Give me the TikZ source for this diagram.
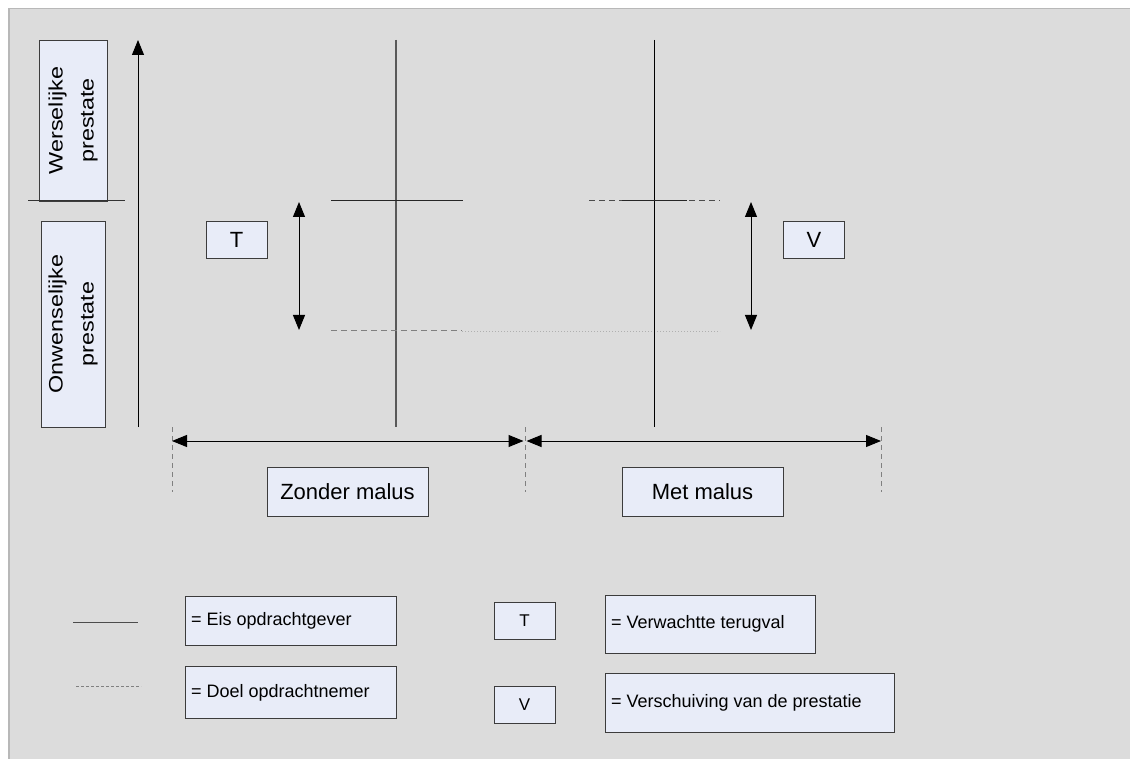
\documentclass[tikz,border=0pt]{standalone}
\usepackage{fontspec}
\setmainfont{Liberation Sans}
\usetikzlibrary{arrows.meta}
\definecolor{bggray}{HTML}{DCDCDC}
\definecolor{edgegray}{HTML}{B8B8B8}
\definecolor{boxfill}{HTML}{E8ECF8}
\definecolor{boxline}{HTML}{3C3C3C}
\definecolor{dashgray}{HTML}{808080}
\definecolor{dotgray}{HTML}{B0B0B0}
\tikzset{
  box/.style={draw=boxline, fill=boxfill, line width=0.9pt, inner sep=0pt, rectangle},
  bigtxt/.style={font=\fontsize{22}{26}\selectfont},
  sidetxt/.style={font=\fontsize{19.5}{31}\selectfont, align=center, yscale=1.2},
  smalltxt/.style={font=\fontsize{18}{21}\selectfont},
  letter/.style={font=\fontsize{22}{26}\selectfont},
  legletter/.style={font=\fontsize{17}{20}\selectfont},
  arr/.style={line width=1pt, -{Triangle[length=15pt,width=12pt]}},
  dblarr/.style={line width=1pt, {Triangle[length=15pt,width=12pt]}-{Triangle[length=15pt,width=12pt]}},
  reqline/.style={line width=1pt, black!85},
  goalline/.style={line width=1pt, dashgray, dash pattern=on 6pt off 4pt},
  faintline/.style={line width=0.8pt, dotgray, dash pattern=on 1pt off 2pt},
  tickline/.style={line width=0.8pt, dashgray, dash pattern=on 5pt off 4pt},
}
\begin{document}
\begin{tikzpicture}[x=1pt,y=-1pt]
\useasboundingbox (0,0) rectangle (1130,759);
% canvas
\fill[white] (0,0) rectangle (1130,759);
\fill[bggray] (8,8) rectangle (1130,759);
\draw[edgegray, line width=1.5pt] (8.75,759) -- (8.75,8.75) -- (1130,8.75);

% side labels
\node[box, rotate=90, minimum width=161, minimum height=68] (wens) at (73,120.5) {};
\node[sidetxt, rotate=90] (wenstxt) at (wens.center) {Werselijke\\prestate};
\node[box, rotate=90, minimum width=206, minimum height=64] (onwens) at (73,324) {};
\node[sidetxt, rotate=90] (onwenstxt) at (onwens.center) {Onwenselijke\\prestate};
\coordinate (splitL) at (28,201);
\coordinate (splitR) at (125,201);
\draw[line width=1pt, black!80] (splitL) -- (splitR);

% performance axis
\coordinate (axisbot) at (138,427);
\coordinate (axistop) at (138,40);
\draw[arr] (axisbot) -- (axistop);

% left panel: without malus
\coordinate (v1top) at (396,40);
\coordinate (v1bot) at (396,427);
\draw[reqline, black!65, line width=1.4pt] (v1top) -- (v1bot);
\coordinate (r1a) at (331,201);
\coordinate (r1b) at (463,201);
\draw[reqline] (r1a) -- (r1b);
\coordinate (g1a) at (331,331);
\coordinate (g1b) at (462,331);
\coordinate (g1c) at (720,331);
\draw[goalline] (g1a) -- (g1b);
\draw[faintline] (g1b) -- (g1c);

% right panel: with malus
\coordinate (v2top) at (654,40);
\coordinate (v2bot) at (654,427);
\draw[reqline, black] (v2top) -- (v2bot);
\coordinate (g2a) at (589,201);
\coordinate (g2b) at (720,201);
\draw[goalline, black!70] (g2a) -- (g2b);
\coordinate (r2a) at (622,201);
\coordinate (r2b) at (687,201);
\draw[reqline] (r2a) -- (r2b);

% expected drop and shift
\node[box, letter, minimum width=61, minimum height=37] (tbox) at (236.5,239.5) {T};
\coordinate (tarrtop) at (299,202);
\coordinate (tarrbot) at (299,330);
\draw[dblarr] (tarrtop) -- (tarrbot);
\node[box, letter, minimum width=61, minimum height=37] (vbox) at (814,239.5) {V};
\coordinate (varrtop) at (751,202);
\coordinate (varrbot) at (751,330);
\draw[dblarr] (varrtop) -- (varrbot);

% scenario ranges
\coordinate (tickA1) at (172,427);
\coordinate (tickA2) at (172,492);
\coordinate (tickB1) at (525,427);
\coordinate (tickB2) at (525,492);
\coordinate (tickC1) at (881,427);
\coordinate (tickC2) at (881,492);
\draw[tickline] (tickA1) -- (tickA2);
\draw[tickline] (tickB1) -- (tickB2);
\draw[tickline] (tickC1) -- (tickC2);
\coordinate (rA) at (172,441);
\coordinate (rB1) at (523.5,441);
\coordinate (rB2) at (526.5,441);
\coordinate (rC) at (881,441);
\draw[dblarr] (rA) -- (rB1);
\draw[dblarr] (rB2) -- (rC);
\node[box, bigtxt, minimum width=161, minimum height=49] (zonder) at (347.5,491.5) {Zonder malus};
\node[box, bigtxt, minimum width=161, minimum height=49] (met) at (702.5,491.5) {Met malus};

% legend
\coordinate (legSa) at (73,622);
\coordinate (legSb) at (138,622);
\draw[line width=1pt, black!70] (legSa) -- (legSb);
\coordinate (legDa) at (76,686);
\coordinate (legDb) at (141,686);
\draw[line width=0.8pt, dashgray, dash pattern=on 3pt off 2pt] (legDa) -- (legDb);
\node[box, minimum width=211, minimum height=49] (eis) at (290.5,621) {};
\node[smalltxt, anchor=west] (eistxt) at ([xshift=3pt]eis.west) {= Eis opdrachtgever};
\node[box, minimum width=211, minimum height=52] (doel) at (290.5,692.5) {};
\node[smalltxt, anchor=west] (doeltxt) at ([xshift=3pt]doel.west) {= Doel opdrachtnemer};
\node[box, legletter, minimum width=61, minimum height=37] (tleg) at (524.5,621) {T};
\node[box, legletter, minimum width=61, minimum height=37] (vleg) at (524.5,705) {V};
\node[box, minimum width=210, minimum height=58] (terug) at (710,624) {};
\node[smalltxt, anchor=west] (terugtxt) at ([xshift=3pt]terug.west) {= Verwachtte terugval};
\node[box, minimum width=289, minimum height=59] (versch) at (749.5,702.5) {};
\node[smalltxt, anchor=west] (verschtxt) at ([xshift=3pt]versch.west) {= Verschuiving van de prestatie};
\end{tikzpicture}
\end{document}
